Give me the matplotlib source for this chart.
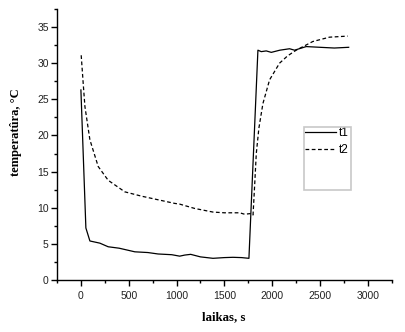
import matplotlib
matplotlib.use("Agg")
import matplotlib.pyplot as plt
from matplotlib.ticker import MultipleLocator
from matplotlib.patches import Rectangle

t1_x = [0, 52, 94, 198, 285, 400, 564, 700, 807, 950, 1033, 1086, 1148, 1250, 1381,
        1500, 1590, 1680, 1757, 1851, 1886, 1938, 1991, 2080, 2182, 2234, 2356, 2500,
        2650, 2800]
t1_y = [26.3, 7.2, 5.4, 5.1, 4.6, 4.4, 3.9, 3.8, 3.6, 3.5, 3.3, 3.45, 3.55, 3.2, 3.0,
        3.1, 3.14, 3.1, 3.0, 31.8, 31.6, 31.7, 31.5, 31.8, 32.0, 31.8, 32.3, 32.2,
        32.1, 32.2]

t2_x = [3, 24, 42, 94, 181, 285, 459, 634, 807, 981, 1033, 1190, 1381, 1500, 1660,
        1712, 1780, 1800, 1816, 1834, 1861, 1903, 1973, 2077, 2160, 2251, 2425, 2599,
        2790]
t2_y = [31.1, 27.2, 24.0, 19.4, 15.7, 13.8, 12.2, 11.6, 11.1, 10.6, 10.5, 9.9, 9.4,
        9.3, 9.3, 9.1, 9.2, 9.0, 12.9, 17.5, 21.0, 24.4, 27.7, 30.0, 31.0, 31.8, 33.0,
        33.6, 33.75]

series_labels = ["t1", "t2"]
x_label = "laikas, s"
y_label = "temperatûra, °C"

W, H = 405, 332
fig = plt.figure(figsize=(W / 100, H / 100), dpi=100)
ax = fig.add_axes([57 / W, 1 - 280 / H, (391.7 - 57) / W, (280 - 9) / H])

ax.plot(t1_x, t1_y, color="black", lw=0.9, label=series_labels[0])
ax.plot(t2_x, t2_y, color="black", lw=0.9, ls=(0, (3, 2)), label=series_labels[1])

ax.set_xlim(-250, 3250)
ax.set_ylim(0, 37.5)
ax.xaxis.set_major_locator(MultipleLocator(500))
ax.xaxis.set_minor_locator(MultipleLocator(250))
ax.yaxis.set_major_locator(MultipleLocator(5))
ax.yaxis.set_minor_locator(MultipleLocator(2.5))

for s in ["top", "right"]:
    ax.spines[s].set_visible(False)
for s in ["left", "bottom"]:
    ax.spines[s].set_linewidth(1.0)

tick_font = "Liberation Sans"
ax.tick_params(which="major", direction="out", length=4, width=1, labelsize=7.5)
ax.tick_params(which="minor", direction="out", length=2.5, width=1)
ax.tick_params(axis="y", which="major", pad=2)
ax.tick_params(axis="x", which="major", pad=4)
for lab in ax.get_xticklabels() + ax.get_yticklabels():
    lab.set_fontfamily(tick_font)
    lab.set_color("#222222")

ax.set_xlabel(x_label, fontfamily="Liberation Serif", fontweight="bold", fontsize=9.3)
ax.set_ylabel(y_label, fontfamily="Liberation Serif", fontweight="bold", fontsize=9)
ax.xaxis.set_label_coords(0.498, -0.114)
ax.yaxis.set_label_coords(-0.106, 0.547)

# legend frame
fig.patches.append(Rectangle((304 / W, 1 - 190 / H), 47 / W, 63 / H,
                             transform=fig.transFigure, fill=False,
                             edgecolor="#c8c8c8", lw=1.2))
leg = ax.legend(loc="upper left", bbox_to_anchor=(305 / W, 1 - 127 / H),
                bbox_transform=fig.transFigure, frameon=False,
                prop={"family": tick_font, "size": 8.5}, borderpad=0,
                borderaxespad=0, handlelength=2.6, handletextpad=0.3,
                labelspacing=0.4)

fig.savefig("out.png", dpi=100)
